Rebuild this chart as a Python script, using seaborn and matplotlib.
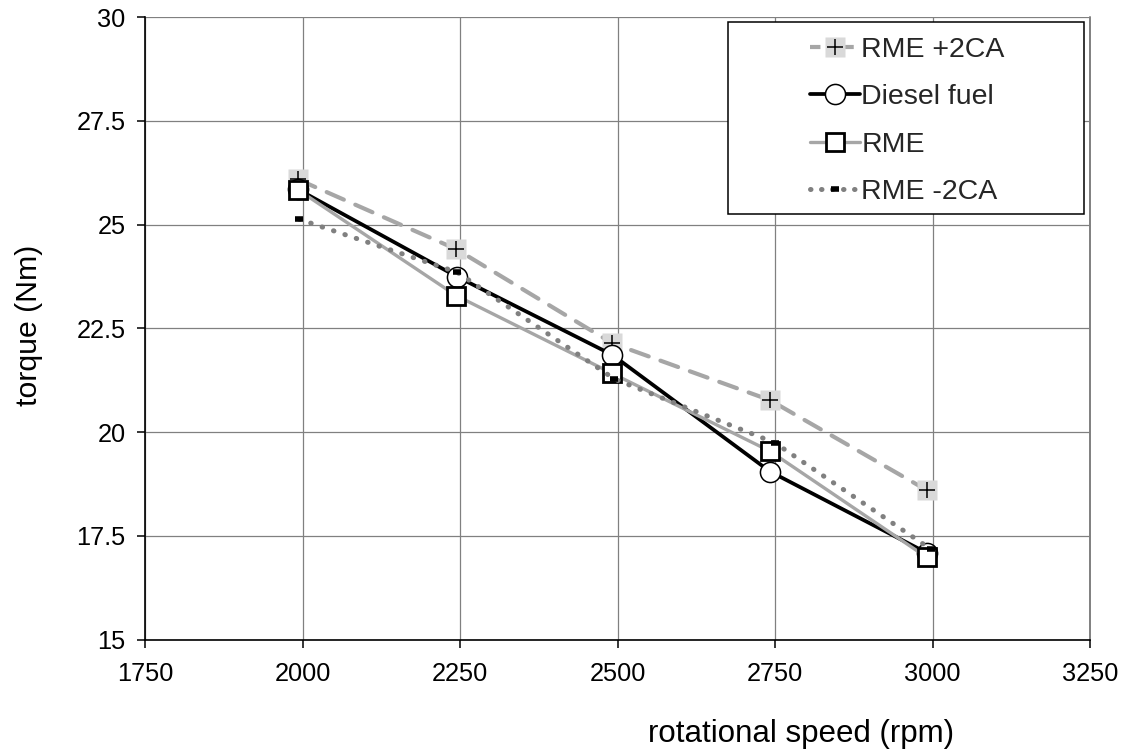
import matplotlib
matplotlib.use("Agg")
import matplotlib.pyplot as plt
from matplotlib.lines import Line2D
from matplotlib.patches import Rectangle
import seaborn as sns
import pandas as pd

# ---- data ----
x_rme_p2 = [1993, 2244, 2492, 2742, 2991]
y_rme_p2 = [26.09, 24.41, 22.14, 20.77, 18.60]

x_diesel = [1993, 2245, 2492, 2742, 2992]
y_diesel = [25.85, 23.75, 21.86, 19.05, 17.08]

x_rme = [1993, 2244, 2491, 2742, 2991]
y_rme = [25.84, 23.29, 21.42, 19.54, 16.98]

x_rme_m2 = [1995, 2246, 2495, 2750, 2998]
y_rme_m2 = [25.13, 23.85, 21.28, 19.74, 17.17]

labels = ["RME +2CA", "Diesel fuel", "RME", "RME -2CA"]
x_ticks = [1750, 2000, 2250, 2500, 2750, 3000, 3250]
y_ticks = [15, 17.5, 20, 22.5, 25, 27.5, 30]
y_tick_labels = ["15", "17.5", "20", "22.5", "25", "27.5", "30"]

sns.set_theme(style="white")
plt.rcParams["font.family"] = ["Liberation Sans", "DejaVu Sans"]

W, H = 1124, 753
fig = plt.figure(figsize=(W / 100, H / 100), dpi=100)
ax = fig.add_axes([145 / W, 1 - 639.5 / H, 945 / W, 622.2 / H])

LG = "#A6A6A6"
DG = "#808080"
DOT = (0, (0.1, 2.3))

# RME +2CA : dashed grey line, light grey square with black plus
d1 = pd.DataFrame({"x": x_rme_p2, "y": y_rme_p2})
sns.lineplot(data=d1, x="x", y="y", ax=ax, sort=False, estimator=None,
             color=LG, lw=3, zorder=3)
ax.lines[-1].set_linestyle((0, (4.5, 3)))
ax.lines[-1].set_dash_capstyle("round")
sns.lineplot(data=d1, x="x", y="y", ax=ax, sort=False, estimator=None,
             lw=0, marker="s", ms=15, mfc="#D9D9D9", mec="none", zorder=3.1)
sns.lineplot(data=d1, x="x", y="y", ax=ax, sort=False, estimator=None,
             lw=0, marker="+", ms=11, mew=1.1, mec="black", zorder=3.2)

# Diesel fuel : black line, white circles
d2 = pd.DataFrame({"x": x_diesel, "y": y_diesel})
sns.lineplot(data=d2, x="x", y="y", ax=ax, sort=False, estimator=None,
             color="black", lw=2.7, marker="o", ms=14.5, mfc="white",
             mec="black", mew=1.1, zorder=4)

# RME : grey line, white squares with black edge
d3 = pd.DataFrame({"x": x_rme, "y": y_rme})
sns.lineplot(data=d3, x="x", y="y", ax=ax, sort=False, estimator=None,
             color=LG, lw=2.4, marker="s", ms=13.5, mfc="white",
             mec="black", mew=2.0, zorder=5)

# RME -2CA : dotted dark grey line, small black dash markers
d4 = pd.DataFrame({"x": x_rme_m2, "y": y_rme_m2})
sns.lineplot(data=d4, x="x", y="y", ax=ax, sort=False, estimator=None,
             color=DG, lw=3.6, zorder=6)
ax.lines[-1].set_linestyle(DOT)
ax.lines[-1].set_dash_capstyle("round")
sns.lineplot(data=d4, x="x", y="y", ax=ax, sort=False, estimator=None,
             lw=0, marker="_", ms=6, mew=4, mec="black", zorder=6.1)

ax.set_xlim(1750, 3250)
ax.set_ylim(15, 30)
ax.set_xticks(x_ticks)
ax.set_xticklabels([str(t) for t in x_ticks])
ax.set_yticks(y_ticks)
ax.set_yticklabels(y_tick_labels)

ax.grid(True, color=DG, lw=0.9)
ax.set_axisbelow(True)
for s in ["top", "right"]:
    ax.spines[s].set_visible(False)
for s in ["left", "bottom"]:
    ax.spines[s].set_color("black")
    ax.spines[s].set_linewidth(1.2)
    ax.spines[s].set_zorder(2.5)
# right-edge grid line at 3250 (Excel draws it)
ax.axvline(3250, color=DG, lw=1.4, zorder=0.5, clip_on=False)

ax.tick_params(axis="both", direction="out", length=6, width=1.1,
               color="black", labelsize=18.3, labelcolor="black",
               bottom=True, left=True)
ax.tick_params(axis="x", pad=10)
ax.tick_params(axis="y", pad=8)

ax.set_xlabel("rotational speed (rpm)", fontsize=22.5, color="black")
ax.xaxis.set_label_coords(0.694, -0.152)
ax.xaxis.label.set_verticalalignment("center")
ax.set_ylabel("torque (Nm)", fontsize=21.8, color="black")
ax.yaxis.set_label_coords(-0.123, 0.505)
ax.yaxis.label.set_verticalalignment("center")

# legend frame (Excel style, content centred)
fig.patches.append(Rectangle((728 / W, 1 - 214 / H), (1084 - 728) / W,
                             (214 - 22.3) / H, transform=fig.transFigure,
                             facecolor="white", edgecolor="black", lw=1.1,
                             zorder=9))

h1a = Line2D([], [], color=LG, lw=3, linestyle=(0, (2.5, 1.5)), marker="s",
             ms=15, mfc="#D9D9D9", mec="none")
h1b = Line2D([], [], lw=0, marker="+", ms=11, mew=1.1, mec="black")
h2 = Line2D([], [], color="black", lw=2.7, marker="o", ms=14.5, mfc="white",
            mec="black", mew=1.1)
h3 = Line2D([], [], color=LG, lw=2.4, marker="s", ms=13.5, mfc="white",
            mec="black", mew=2.0)
h4a = Line2D([], [], color=DG, lw=3.6, linestyle=(0, (0.1, 2.1)),
             dash_capstyle="round")
h4b = Line2D([], [], lw=0, marker="_", ms=6, mew=4, mec="black")
leg = fig.legend([(h1a, h1b), h2, h3, (h4a, h4b)], labels,
                 loc="upper left", bbox_to_anchor=(810 / W, 1 - 37 / H),
                 fontsize=20.5, frameon=False, handlelength=1.75,
                 handletextpad=0.05, labelspacing=0.75, borderpad=0,
                 borderaxespad=0)
leg.set_zorder(10)

fig.savefig("out.png", dpi=100)
